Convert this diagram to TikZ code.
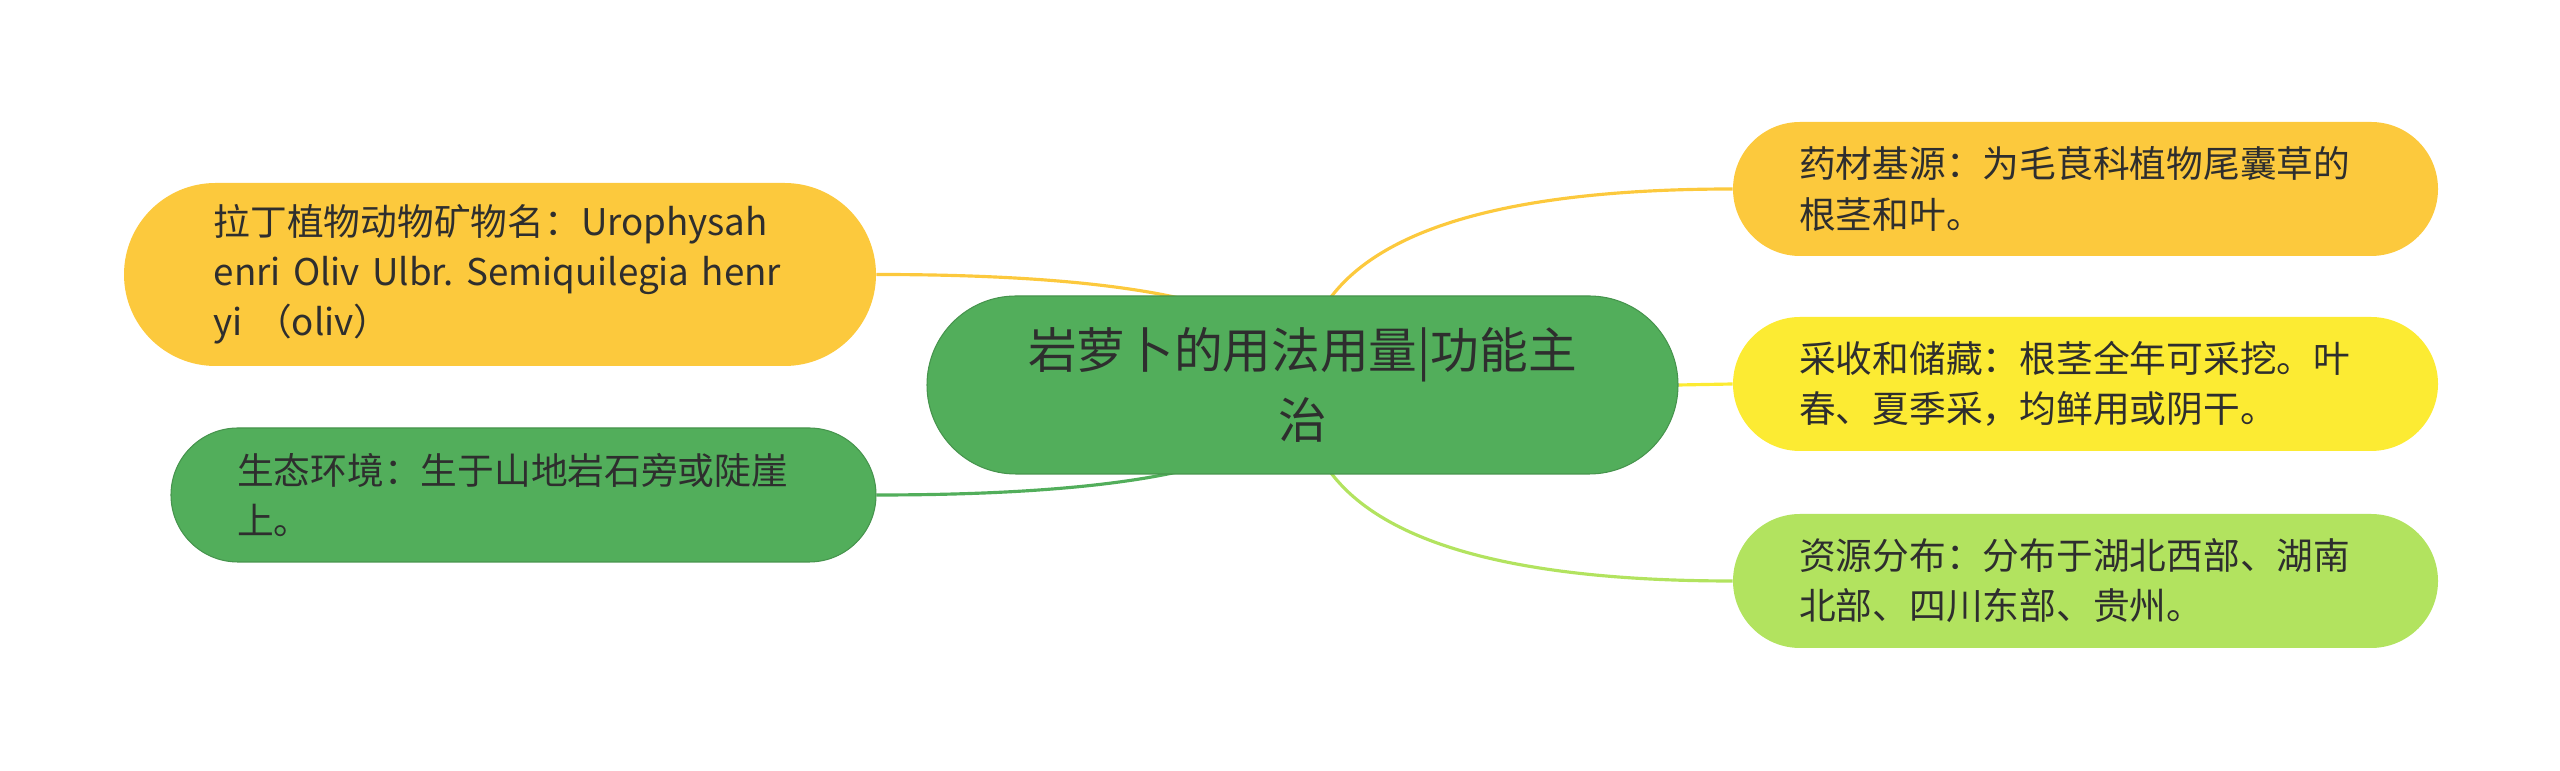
\documentclass[tikz,border=0pt]{standalone}
\usepackage{fontspec}
\setmainfont{Noto Sans CJK SC}
\usetikzlibrary{calc, backgrounds}
\frenchspacing

\definecolor{amber}{HTML}{FCC93D}
\definecolor{lemon}{HTML}{FCEB33}
\definecolor{leaf}{HTML}{52AE5B}
\definecolor{lime}{HTML}{B2E35F}
\definecolor{ink}{HTML}{2E2E2E}

\tikzset{
  topic/.style={rounded corners=1.78cm, minimum width=15.02cm, minimum height=3.56cm,
    inner sep=0pt, text width=12cm, align=center, text=ink,
    font=\fontsize{27.7}{40}\selectfont},
  branch/.style={rounded corners=1.34cm, minimum width=14.1cm, minimum height=2.68cm,
    inner sep=0pt, text width=11.45cm, align=left, text=ink,
    font=\fontsize{20.9}{28.5}\selectfont},
  link/.style={line width=1.8pt}
}

\begin{document}
\begin{tikzpicture}
\useasboundingbox (0, 0) rectangle (51.2, 15.42);

\path (26.05, 7.72) node[topic, fill=leaf, draw=leaf!85!black, line width=0.6pt] (root) {岩萝卜的用法用量|功能主\\治}
      (10.00, 9.93) node[branch, fill=amber, minimum width=15.04cm, minimum height=3.66cm, rounded corners=1.83cm] (latin) {拉丁植物动物矿物名：Urophysah\\\mbox{enri Oliv Ulbr. Semiquilegia henr}\\yi （oliv）}
      (10.47, 5.52) node[branch, fill=leaf, draw=leaf!85!black, line width=0.6pt] (habitat) {生态环境：生于山地岩石旁或陡崖\\上。}
      (41.71, 11.64) node[branch, fill=amber] (source) {药材基源：为毛茛科植物尾囊草的\\根茎和叶。}
      (41.71, 7.74) node[branch, fill=lemon] (harvest) {采收和储藏：根茎全年可采挖。叶\\春、夏季采，均鲜用或阴干。}
      (41.71, 3.80) node[branch, fill=lime] (range) {资源分布：分布于湖北西部、湖南\\北部、四川东部、贵州。};

% connectors behind the boxes
\begin{scope}[on background layer]
\coordinate (kl) at (root.center |- latin.east);
\coordinate (kh) at (root.center |- habitat.east);
\coordinate (ks) at (root.center |- source.west);
\coordinate (kr) at (root.center |- range.west);
\draw[link, amber] (root.center) .. controls ($(root.center)!0.667!(kl)$) and ($(latin.east)!0.667!(kl)$) .. (latin.east);
\draw[link, leaf] (root.center) .. controls ($(root.center)!0.667!(kh)$) and ($(habitat.east)!0.667!(kh)$) .. (habitat.east);
\draw[link, amber] (root.center) .. controls ($(root.center)!0.667!(ks)$) and ($(source.west)!0.667!(ks)$) .. (source.west);
\draw[link, lemon] (root.east) -- (harvest.west);
\draw[link, lime] (root.center) .. controls ($(root.center)!0.667!(kr)$) and ($(range.west)!0.667!(kr)$) .. (range.west);
\end{scope}

\end{tikzpicture}
\end{document}
